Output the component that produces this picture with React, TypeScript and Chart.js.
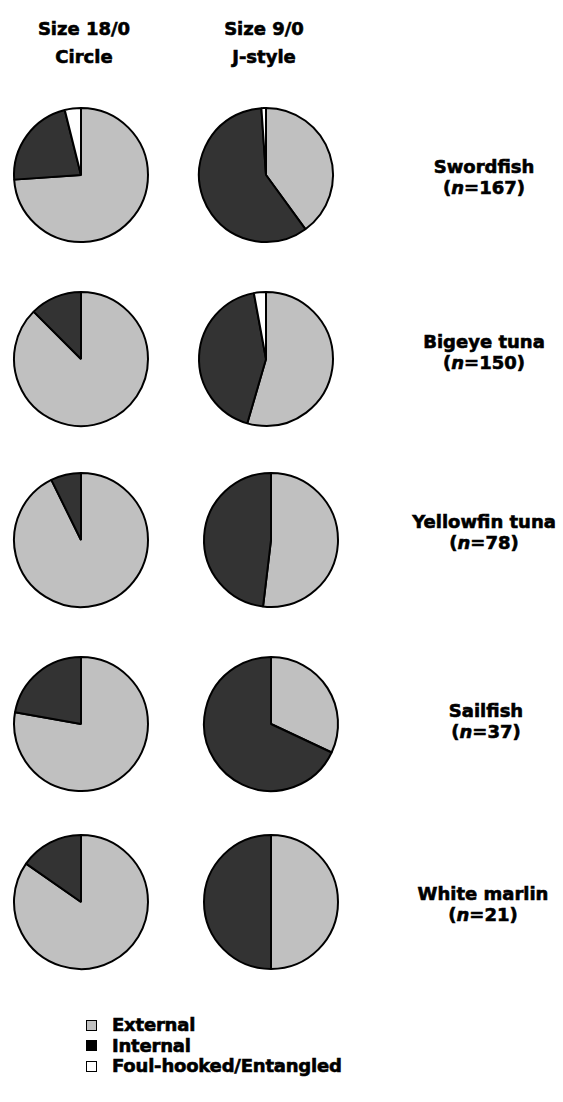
import React, { useEffect, useRef } from "react";
import { Chart, registerables } from "chart.js";

Chart.register(...registerables);

const categories = ["External", "Internal", "Foul-hooked/Entangled"];
const species = ["Swordfish", "Bigeye tuna", "Yellowfin tuna", "Sailfish", "White marlin"];
const sampleSizes = [167, 150, 78, 37, 21];
const hookHeaders = [["Size 18/0", "Circle"], ["Size 9/0", "J-style"]];

// percentages
const circleExternal = [73.9, 87.5, 92.7, 77.8, 84.7];
const circleInternal = [22.2, 12.5, 7.3, 22.2, 15.3];
const circleFoul = [3.9, 0, 0, 0, 0];
const jExternal = [40.0, 54.5, 51.9, 32.0, 50];
const jInternal = [58.9, 42.6, 48.1, 68.0, 50];
const jFoul = [1.1, 2.9, 0, 0, 0];

const sliceColors = ["#c0c0c0", "#333333", "#ffffff"];
const legendColors = ["#c0c0c0", "#000000", "#ffffff"];

const FONT = "'DejaVu Sans', 'Liberation Sans', Arial, sans-serif";

const colX = [[81, 81, 81, 81, 81], [266, 266, 271, 271, 271]];
const rowY = [175, 359, 540, 724, 902];
const labelBaseline = [173, 348, 528, 717, 900];
const labelX = [484, 484, 484, 486, 483];
const CANVAS = 140;

function PieChart({ values, cx, cy }: { values: number[]; cx: number; cy: number }) {
  const ref = useRef<HTMLCanvasElement | null>(null);
  useEffect(() => {
    if (!ref.current) return;
    const chart = new Chart(ref.current, {
      type: "pie",
      data: {
        labels: categories,
        datasets: [
          {
            data: values,
            backgroundColor: sliceColors,
            borderColor: "#000000",
            borderWidth: 2,
          },
        ],
      },
      options: {
        animation: false,
        responsive: false,
        maintainAspectRatio: false,
        layout: { padding: 2 },
        plugins: { legend: { display: false }, tooltip: { enabled: false } },
      },
    });
    return () => chart.destroy();
  }, [values]);
  return (
    <canvas
      ref={ref}
      width={CANVAS}
      height={CANVAS}
      style={{ position: "absolute", left: cx - CANVAS / 2, top: cy - CANVAS / 2, width: CANVAS, height: CANVAS }}
    />
  );
}

const textStyle: React.CSSProperties = {
  position: "absolute",
  fontFamily: FONT,
  fontWeight: "bold",
  fontSize: 18,
  lineHeight: "21px",
  color: "#000",
  whiteSpace: "nowrap",
  textAlign: "center",
  transform: "translateX(-50%)",
  WebkitTextStroke: "0.6px #000",
};

export default function App() {
  const circleSets = species.map((_, i) => [circleExternal[i], circleInternal[i], circleFoul[i]]);
  const jSets = species.map((_, i) => [jExternal[i], jInternal[i], jFoul[i]]);
  return (
    <div style={{ position: "absolute", left: 0, top: 0, width: 563, height: 1102, background: "#fff", overflow: "hidden" }}>
      {hookHeaders.map((h, c) => (
        <div key={"h" + c} style={{ ...textStyle, left: c === 0 ? 84 : 264, top: 15, lineHeight: "28px" }}>
          {h[0]}
          <br />
          {h[1]}
        </div>
      ))}
      {species.map((s, i) => (
        <React.Fragment key={s}>
          <PieChart values={circleSets[i]} cx={colX[0][i]} cy={rowY[i]} />
          <PieChart values={jSets[i]} cx={colX[1][i]} cy={rowY[i]} />
          <div style={{ ...textStyle, left: labelX[i], top: labelBaseline[i] - 17 }}>
            {s}
            <br />(<i>n</i>={sampleSizes[i]})
          </div>
        </React.Fragment>
      ))}
      <div style={{ position: "absolute", left: 86, top: 1015 }}>
        {categories.map((c, i) => (
          <div key={c} style={{ display: "flex", alignItems: "center", height: 20.5 }}>
            <span
              style={{
                display: "inline-block",
                width: 9,
                height: 9,
                background: legendColors[i],
                border: "1px solid #000",
                marginRight: 15,
              }}
            />
            <span
              style={{
                fontFamily: FONT,
                fontWeight: "bold",
                fontSize: 18,
                lineHeight: "20px",
                WebkitTextStroke: "0.6px #000",
                letterSpacing: "-0.2px",
              }}
            >
              {c}
            </span>
          </div>
        ))}
      </div>
    </div>
  );
}
